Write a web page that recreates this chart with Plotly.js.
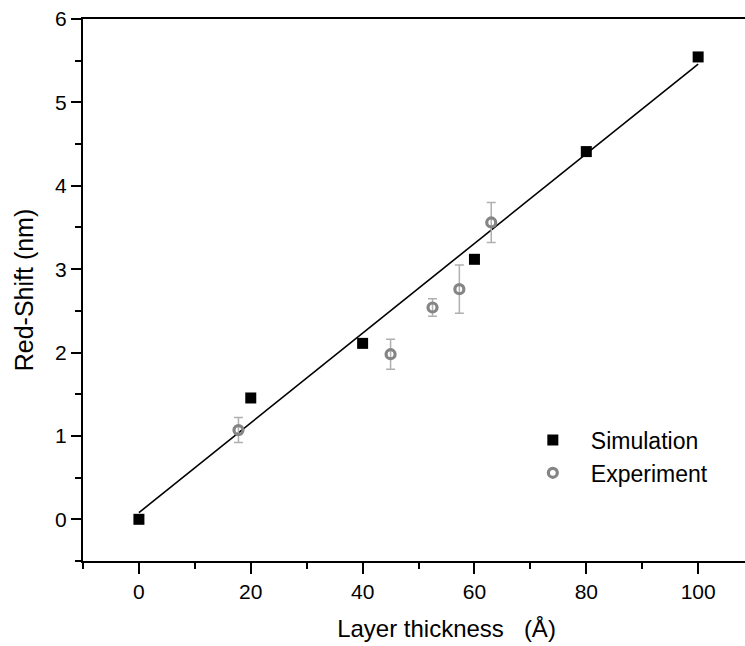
<!DOCTYPE html>
<html>
<head>
<meta charset="utf-8">
<script src="https://cdn.plot.ly/plotly-3.0.1.min.js"></script>
<style>
html, body { margin:0; padding:0; overflow:hidden; background:#fff; }
#chart { width:810px; height:646px; }
</style>
</head>
<body>
<div id="chart"></div>
<script>
// Simulation data
const simX = [0, 20, 40, 60, 80, 100];
const simY = [0, 1.455, 2.11, 3.118, 4.41, 5.545];
// Experiment data
const expX = [17.8, 45.0, 52.5, 57.3, 63.0];
const expY = [1.07, 1.98, 2.54, 2.76, 3.56];
const expErr = [0.15, 0.18, 0.105, 0.29, 0.24];
// Linear fit
const fitX = [0, 100];
const fitY = [0.08, 5.46];
// Tick labels
const xTickVals = [0, 20, 40, 60, 80, 100];
const xTickText = ["0", "20", "40", "60", "80", "100"];
const yTickVals = [0, 1, 2, 3, 4, 5, 6];
const yTickText = ["0", "1", "2", "3", "4", "5", "6"];

const FONT = "Liberation Sans, Arial, sans-serif";

const traces = [
  {
    x: fitX, y: fitY, type: 'scatter', mode: 'lines',
    line: {color: '#000', width: 1.6}, showlegend: false, hoverinfo: 'skip'
  },
  {
    x: simX, y: simY, type: 'scatter', mode: 'markers', name: 'Simulation',
    marker: {symbol: 'square', size: 11, color: '#000'}
  },
  {
    x: expX, y: expY, type: 'scatter', mode: 'markers', name: 'Experiment',
    marker: {symbol: 'circle-open', size: 9, color: '#858585', line: {width: 3.2, color: '#858585'}},
    error_y: {type: 'data', array: expErr, visible: true, color: '#b0b0b0', thickness: 1.5, width: 4.5}
  }
];

const layout = {
  width: 810, height: 646,
  margin: {l: 83, r: 0, t: 19, b: 85},
  paper_bgcolor: '#fff', plot_bgcolor: '#fff',
  font: {family: FONT, color: '#000', size: 21},
  showlegend: true,
  legend: {
    x: 0.594, y: 0.263, xanchor: 'left', yanchor: 'top',
    font: {family: FONT, size: 23, color: '#000'},
    bgcolor: 'rgba(0,0,0,0)', borderwidth: 0, itemwidth: 66
  },
  xaxis: {
    range: [-10, 120], showgrid: false, zeroline: false,
    showline: true, linecolor: '#000', linewidth: 2, mirror: true,
    ticks: 'outside', ticklen: 11, tickwidth: 2, tickcolor: '#000',
    tickmode: 'array', tickvals: xTickVals, ticktext: xTickText,
    tickfont: {family: FONT, size: 21, color: '#000'},
    minor: {dtick: 10, tick0: 0, ticks: 'outside', ticklen: 6, tickwidth: 2, tickcolor: '#000', showgrid: false},
    title: {text: 'Layer thickness&nbsp;&nbsp;&nbsp;(Å)', font: {family: FONT, size: 24, color: '#000'}, standoff: 18},
    automargin: false
  },
  yaxis: {
    range: [-0.5, 6], showgrid: false, zeroline: false,
    showline: true, linecolor: '#000', linewidth: 2, mirror: true,
    ticks: 'outside', ticklen: 10, tickwidth: 2, tickcolor: '#000',
    tickmode: 'array', tickvals: yTickVals, ticktext: yTickText,
    tickfont: {family: FONT, size: 21, color: '#000'},
    minor: {dtick: 0.5, tick0: 0, ticks: 'outside', ticklen: 6, tickwidth: 2, tickcolor: '#000', showgrid: false},
    title: {text: 'Red-Shift (nm)', font: {family: FONT, size: 25, color: '#000'}, standoff: 14},
    automargin: false
  }
};

Plotly.newPlot('chart', traces, layout, {displayModeBar: false, staticPlot: true});
</script>
</body>
</html>
